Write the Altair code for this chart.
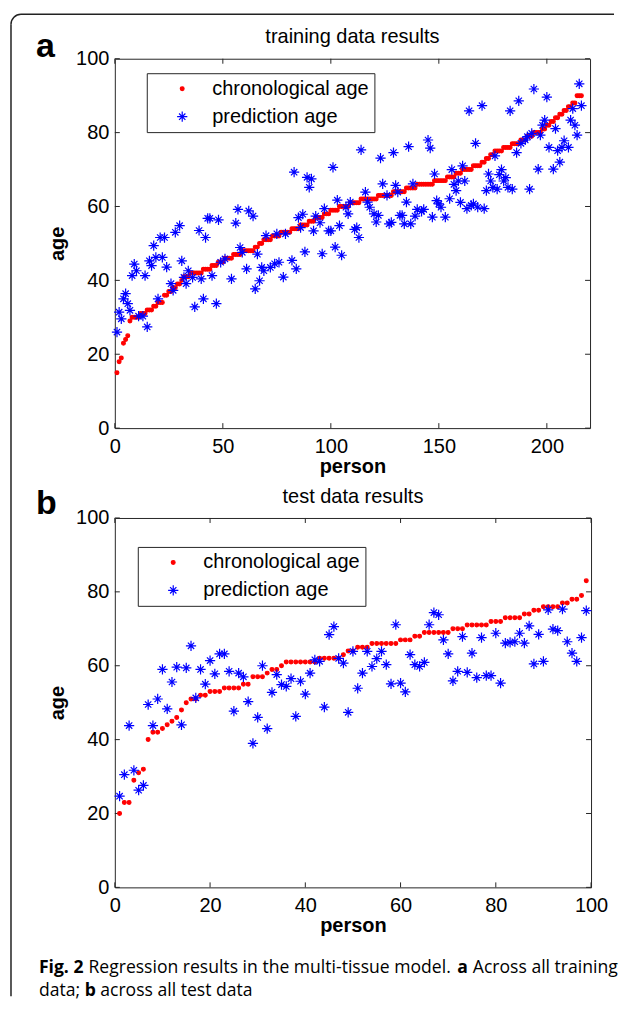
import altair as alt
import pandas as pd

# ---------------- data ----------------
series_names = ["chronological age", "prediction age"]

x_ticks_a = [0, 50, 100, 150, 200]
x_ticks_b = [0, 20, 40, 60, 80, 100]
y_ticks = [0, 20, 40, 60, 80, 100]

# panel a: training data (216 persons)
train_chrono = [
    15, 18, 19, 23, 24, 25, 29, 30, 30, 30,
    30, 31, 31, 31, 32, 32, 32, 33, 33, 34,
    34, 34, 36, 36, 37, 37, 38, 38, 39, 39,
    40, 41, 41, 41, 42, 42, 42, 42, 42, 42,
    43, 43, 43, 43, 44, 44, 44, 45, 45, 45,
    46, 46, 46, 46, 47, 47, 47, 47, 48, 48,
    48, 48, 48, 48, 49, 49, 50, 50, 51, 51,
    51, 51, 52, 52, 52, 52, 53, 53, 53, 53,
    53, 54, 54, 54, 54, 55, 55, 55, 55, 56,
    56, 56, 57, 57, 57, 57, 58, 58, 58, 59,
    59, 59, 59, 60, 60, 60, 60, 60, 61, 61,
    61, 61, 61, 62, 62, 62, 62, 62, 62, 62,
    62, 63, 63, 63, 63, 63, 63, 63, 64, 64,
    64, 64, 64, 64, 65, 65, 65, 65, 65, 66,
    66, 66, 66, 66, 66, 66, 66, 67, 67, 67,
    67, 67, 67, 68, 68, 68, 68, 69, 69, 69,
    70, 70, 70, 70, 70, 71, 71, 71, 71, 72,
    72, 73, 73, 74, 74, 75, 75, 75, 75, 76,
    76, 76, 76, 77, 77, 77, 77, 78, 78, 78,
    79, 79, 79, 80, 80, 80, 80, 81, 81, 82,
    82, 83, 83, 84, 84, 85, 85, 86, 86, 87,
    87, 88, 88, 90, 90, 90,
]

train_pred_person = [
    1, 2, 3, 4, 5, 6, 7, 8, 9, 10, 11, 13, 14, 15, 16, 17, 18, 19, 20, 21,
    22, 23, 24, 26, 27, 28, 30, 31, 32, 33, 34, 36, 37, 39, 40, 41, 42, 43, 44, 45,
    47, 48, 49, 51, 54, 56, 57, 58, 59, 61, 62, 64, 65, 66, 67, 68, 69, 70, 72,
    74, 75, 76, 78, 79, 82, 83, 84, 85, 86, 87, 88, 89, 90, 91, 92, 93, 95, 96, 97,
    99, 100, 101, 102, 103, 104, 105, 107, 108, 109, 111, 112, 113, 114, 116, 117, 118,
    120, 121, 122, 123, 124, 126, 127, 128, 129, 130, 131, 132, 133, 134, 135, 136, 137,
    138, 139, 140, 142, 143, 145, 146,
    147, 148, 149, 150, 151, 153, 155, 156, 157, 158, 159, 160, 161, 162, 163, 164, 165,
    166, 167, 168, 170, 171, 172, 173, 174, 175, 176, 177, 178, 179, 180, 181, 182, 183,
    184, 186, 187, 188, 190, 191, 192, 193, 194, 196, 197, 198, 199, 200, 201, 203, 204,
    205, 206, 207, 208, 210, 211, 212, 213, 214, 215, 216,
]
train_pred_age = [
    26, 31.4, 29.6, 35, 36.4, 33.7, 31.9, 41.3, 44.4, 42.6, 30.3, 30.3, 41.3, 27.4, 45.3, 44, 49.4, 46.2, 35, 51.6,
    46.2, 51.6, 43.6, 39.1, 37.3, 53, 54.8, 45.3, 40.8, 39.1, 42.6, 40.8, 32.8, 53.5, 40.4, 35, 51.6, 56.8, 56.8, 41.3,
    33.7, 56.4, 44.9, 45.8, 40.4, 55.5, 59.2, 48.9, 47.6, 43.1, 58.8, 57.4, 37.7, 47.1, 39.9, 43.5, 42.6, 52.1, 43.5,
    44.5, 52.6, 44.9, 40.9, 52.6, 45.4, 69.3, 43.1, 57, 54.3, 57.9, 47.7, 67.9, 65.2, 67.5, 53.4, 57.4, 55.6, 47.2, 59.4,
    53.4, 53.4, 70.6, 49, 61.7, 54.8, 46.8, 59.8, 58, 61.2, 53.8, 54.3, 51.6, 75.3, 63.9, 61.2, 59.8,
    58, 55.8, 57.6, 73.1, 66.1, 63, 55.3, 55.7, 74.6, 65.7, 63.9, 57.6, 57.6, 55.3, 61.2, 76.2, 55.3,
    66.1, 57.4, 59.2, 58.7, 59.2, 78, 75.8,
    57.1, 68.8, 61.6, 60.7, 59.8, 57.1, 62.1, 70, 66, 64.3, 66.9, 61.1, 71, 66.9, 59.4, 85.9, 60.3,
    60.7, 77.1, 59.8, 87.3, 59.4, 64.3, 68.8, 66.9, 65.2, 73.7, 64.7, 68.6, 70, 66.9, 67.8, 65.2, 85.9,
    64.7, 74.6, 88.6, 77.1, 78, 78.9, 64.7, 79.8, 91.8, 70.1, 79.3, 82, 83.4, 89.6, 76, 70.1, 81.1,
    75.1, 72, 76, 77.8, 76, 83.4, 86.5, 82, 79.3, 93.2, 87.3,
]

# panel b: test data (99 persons)
test_chrono = [
    20, 23, 23, 29, 31, 32, 40, 42, 42, 43,
    44, 45, 46, 48, 50, 51, 51, 52, 52, 53,
    53, 53, 54, 54, 54, 54, 55, 55, 57, 57,
    57, 58, 59, 59, 60, 61, 61, 61, 61, 61,
    61, 61, 62, 62, 62, 62, 62, 63, 64, 64,
    65, 65, 65, 66, 66, 66, 66, 66, 66, 67,
    67, 67, 68, 68, 69, 69, 69, 69, 69, 69,
    70, 70, 70, 71, 71, 71, 71, 71, 72, 72,
    72, 73, 73, 73, 73, 74, 74, 75, 75, 76,
    76, 76, 76, 77, 77, 78, 78, 79, 83,
]
test_pred = [
    24.7, 30.5, 43.8, 31.7, 26.3, 27.6, 49.5, 43.8, 51, 59,
    48.3, 55.6, 59.6, 44, 59.4, 65.4, 51.3, 59, 55, 61.4,
    57.8, 63.2, 63.2, 58.5, 47.7, 58, 57, 50.3, 39, 46,
    60, 43, 52.8, 57.6, 54.9, 54.4, 56.5, 46.3, 55.8, 52.3,
    58, 61.6, 61.2, 48.8, 68.4, 70.6, 62, 60.7, 47.4, 63.9,
    53.9, 58, 63.9, 59.8, 61.9, 63.9, 60.3, 55.1, 71.1, 55.3,
    52.9, 63, 60.3, 59.8, 60.9, 71.1, 74.4, 73.8, 67, 63.2,
    55.9, 58.5, 67.9, 58.2, 63.4, 56.8, 67.6, 57.3, 57.3, 68.8,
    55.3, 66.1, 66.3, 66.5, 68.8, 66.1, 70.8, 60.5, 68.5, 61.2,
    75.1, 69.9, 69.5, 75.3, 66.5, 63.4, 61.2, 67.6, 74.9,
]

titles = ["training data results", "test data results"]
panel_letters = ["a", "b"]

# ---------------- styling ----------------
STAR = "M-1,0L1,0M0,-1L0,1M-0.62,-0.62L0.62,0.62M-0.62,0.62L0.62,-0.62"
DOT = "M-0.37,0A0.37,0.37,0,1,0,0.37,0A0.37,0.37,0,1,0,-0.37,0Z"
MSIZE = 105
FONT = "Liberation Sans"
CAPFONT = "Open Sans"
CAPSIZE = 17.6
AXC = "#262626"
FRAMEC = "#222222"
ONE = pd.DataFrame({"k": [0]})


def long_df(pc, ac, pp, ap):
    rows = [{"person": p, "age": a, "series": series_names[0], "ord": 0} for p, a in zip(pc, ac)]
    rows += [{"person": p, "age": a, "series": series_names[1], "ord": 1} for p, a in zip(pp, ap)]
    return pd.DataFrame(rows)


def text_run(txt, x, y, size, bold=False, font=FONT, align="left"):
    kw = dict(text=txt, font=font, fontSize=size, align=align, baseline="alphabetic", color="black")
    if bold:
        kw["fontWeight"] = "bold"
    return alt.Chart(ONE).mark_text(**kw).encode(x=alt.value(x), y=alt.value(y))


def panel(df, W, H, xmax, xticks, title, letter, letter_y, legx, legy):
    xsc = alt.Scale(domain=[0, xmax], nice=False, zero=False)
    ysc = alt.Scale(domain=[0, 100], nice=False)
    leg = alt.Legend(title=None, orient="none", legendX=legx, legendY=legy, padding=5.5,
                     strokeColor=AXC, fillColor="white", labelFont=FONT, labelFontSize=20,
                     labelColor="black", symbolSize=MSIZE, symbolStrokeWidth=1.2, symbolOffset=20,
                     labelOffset=20, rowPadding=8, labelLimit=400)
    col = alt.Scale(domain=series_names, range=["#ff0000", "#0000ff"])
    pts = alt.Chart(df).mark_point(filled=True, opacity=1, strokeWidth=1.2, size=MSIZE).encode(
        x=alt.X("person:Q", scale=xsc,
                axis=alt.Axis(values=xticks, title="person", labelPadding=8, titlePadding=0)),
        y=alt.Y("age:Q", scale=ysc,
                axis=alt.Axis(values=y_ticks, title="age", labelPadding=6, titlePadding=8)),
        fill=alt.Fill("series:N", scale=col, legend=leg),
        stroke=alt.Stroke("series:N", scale=col, legend=leg),
        shape=alt.Shape("series:N", scale=alt.Scale(domain=series_names, range=[DOT, STAR]), legend=leg),
        order=alt.Order("ord:Q"),
    )
    xt = pd.DataFrame({"person": xticks})
    yt = pd.DataFrame({"age": y_ticks})
    r = dict(color=AXC, strokeWidth=1)
    xb = alt.Chart(xt).mark_rule(**r).encode(x=alt.X("person:Q", scale=xsc), y=alt.value(H), y2=alt.value(H - 5))
    xtp = alt.Chart(xt).mark_rule(**r).encode(x=alt.X("person:Q", scale=xsc), y=alt.value(0), y2=alt.value(5))
    yl = alt.Chart(yt).mark_rule(**r).encode(y=alt.Y("age:Q", scale=ysc), x=alt.value(0), x2=alt.value(5))
    yr = alt.Chart(yt).mark_rule(**r).encode(y=alt.Y("age:Q", scale=ysc), x=alt.value(W), x2=alt.value(W - 5))
    ttl = text_run(title, W / 2, -15.5, 20, align="center")
    let = text_run(letter, -79, letter_y, 34, bold=True)
    return [xb, xtp, yl, yr, pts, ttl, let]


Wa, Ha = 476, 370
Wb, Hb = 477, 370

dfa = long_df(list(range(1, len(train_chrono) + 1)), train_chrono, train_pred_person, train_pred_age)
dfb = long_df(list(range(1, len(test_chrono) + 1)), test_chrono, list(range(1, len(test_pred) + 1)), test_pred)

layers_a = panel(dfa, Wa, Ha, 220, x_ticks_a, titles[0], panel_letters[0], -1.5, 32, 14.5)
# figure frame (rounded top-left corner, right/bottom edges run off the page)
frame_top = alt.Chart(ONE).mark_rule(color=FRAMEC, strokeWidth=1.5).encode(
    x=alt.value(-94), x2=alt.value(500), y=alt.value(-44.5))
frame_left = alt.Chart(ONE).mark_rule(color=FRAMEC, strokeWidth=1.5).encode(
    x=alt.value(-104), y=alt.value(-34.5), y2=alt.value(939))
frame_corner = alt.Chart(ONE).mark_arc(radius=10.75, radius2=9.25, theta=4.712389, theta2=6.283185,
                                       color=FRAMEC).encode(x=alt.value(-94), y=alt.value(-34.5))
chart_a = alt.layer(*layers_a, frame_top, frame_left, frame_corner).properties(width=Wa, height=Ha)

layers_b = panel(dfb, Wb, Hb, 100, x_ticks_b, titles[1], panel_letters[1], -4, 23, 29)
L1, L2 = 456, 479
cap = [
    text_run("Fig. 2", -76, L1, CAPSIZE, bold=True, font=CAPFONT),
    text_run("Regression results in the multi-tissue model.", -26.4, L1, CAPSIZE, font=CAPFONT),
    text_run("a", 343, L1, CAPSIZE, bold=True, font=CAPFONT),
    text_run("Across all training", 358.6, L1, CAPSIZE, font=CAPFONT),
    text_run("data;", -76, L2, CAPSIZE, font=CAPFONT),
    text_run("b", -30, L2, CAPSIZE, bold=True, font=CAPFONT),
    text_run("across all test data", -14.6, L2, CAPSIZE, font=CAPFONT),
]
chart_b = alt.layer(*layers_b, *cap).properties(width=Wb, height=Hb)

chart = alt.vconcat(chart_a, chart_b, spacing=90, bounds="flush").resolve_scale(
    fill="independent", stroke="independent", shape="independent"
).resolve_legend(
    fill="independent", stroke="independent", shape="independent"
).properties(
    padding={"left": 1, "top": 4, "right": 0, "bottom": 0}
).configure_view(stroke=AXC, strokeWidth=1).configure_axis(
    labelFont=FONT, labelFontSize=20, labelColor="black", titleFont=FONT, titleFontSize=20,
    titleFontWeight="bold", titleColor="black", ticks=False, domain=False, grid=False,
    labelFlush=False,
)

chart.save("out.html", embed_options={"renderer": "svg", "actions": False})
